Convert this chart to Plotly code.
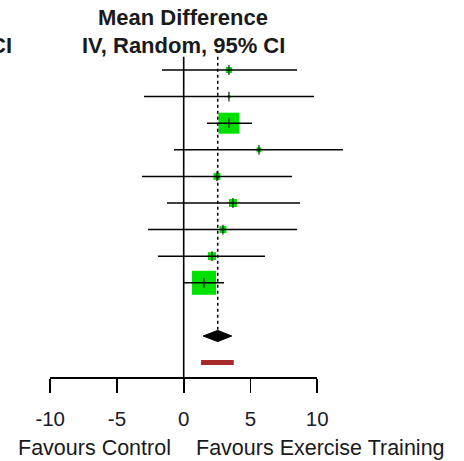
import plotly.graph_objects as go

# ---- data ----
study_rows = [1, 2, 3, 4, 5, 6, 7, 8, 9]
md_est = [3.39, 3.39, 3.39, 5.64, 2.49, 3.69, 2.94, 2.12, 1.52]
md_lo = [-1.63, -2.97, 1.75, -0.73, -3.12, -1.25, -2.67, -1.93, -0.05]
md_hi = [8.49, 9.76, 5.12, 11.93, 8.11, 8.71, 8.49, 6.09, 3.02]
weights = [2.7, 0.7, 33.6, 1.9, 3.7, 4.9, 3.7, 4.9, 43.9]
pooled_row = 11
pooled_est, pooled_lo, pooled_hi = 2.55, 1.45, 3.6
pred_row = 12
pred_lo, pred_hi = 1.3, 3.75
tick_vals = [-10, -5, 0, 5, 10]
tick_text = ["-10", "-5", "0", "5", "10"]

# ---- layout geometry ----
W, H = 464, 461
x0px, ppu = 183.7, 13.35
row_px0, row_step = 70.0, 26.6
plot_bottom_px = 377
xr = [-x0px / ppu, (W - x0px) / ppu]
yr = [1 + (plot_bottom_px - row_px0) / row_step, 1 + (0 - row_px0) / row_step]

fig = go.Figure()

# squares (weights)
max_w = max(weights)
sizes = [24 * (w / max_w) ** 0.5 for w in weights]
fig.add_trace(go.Scatter(x=md_est, y=study_rows, mode="markers",
                         marker=dict(symbol="square", size=sizes, color="rgb(0,225,0)",
                                     opacity=1, line=dict(width=0)),
                         hoverinfo="skip", showlegend=False))

# CI lines
cx, cy = [], []
for r, lo, hi in zip(study_rows, md_lo, md_hi):
    cx += [lo, hi, None]
    cy += [r, r, None]
fig.add_trace(go.Scatter(x=cx, y=cy, mode="lines",
                         line=dict(color="black", width=1.5),
                         hoverinfo="skip", showlegend=False))

# estimate ticks
fig.add_trace(go.Scatter(x=md_est, y=study_rows, mode="markers",
                         marker=dict(symbol="line-ns-open", size=7, color="#1a1a1a",
                                     line=dict(color="#1a1a1a", width=1.2)),
                         hoverinfo="skip", showlegend=False))

# zero line
fig.add_trace(go.Scatter(x=[0, 0], y=[0.5, yr[0]], mode="lines",
                         line=dict(color="black", width=1.6),
                         hoverinfo="skip", showlegend=False))

# pooled dotted line
fig.add_trace(go.Scatter(x=[pooled_est, pooled_est], y=[0.5, pooled_row - 0.2], mode="lines",
                         line=dict(color="black", width=1.5, dash="dot"),
                         hoverinfo="skip", showlegend=False))

# diamond
dh = 0.21
fig.add_trace(go.Scatter(x=[pooled_lo, pooled_est, pooled_hi, pooled_est, pooled_lo],
                         y=[pooled_row, pooled_row - dh, pooled_row, pooled_row + dh, pooled_row],
                         mode="lines", fill="toself", fillcolor="black",
                         line=dict(color="black", width=1),
                         hoverinfo="skip", showlegend=False))

# prediction interval
fig.add_trace(go.Scatter(x=[pred_lo, pred_hi], y=[pred_row, pred_row], mode="lines",
                         line=dict(color="#a52a2a", width=5),
                         hoverinfo="skip", showlegend=False))

# dummy for axis 2
fig.add_trace(go.Scatter(x=[0], y=[yr[1]], xaxis="x2", yaxis="y", mode="markers",
                         marker=dict(opacity=0), hoverinfo="skip", showlegend=False))

font_family = "Liberation Sans, Arial, sans-serif"
fig.update_layout(
    width=W, height=H,
    margin=dict(l=0, r=0, t=0, b=H - plot_bottom_px, autoexpand=False),
    paper_bgcolor="white", plot_bgcolor="rgba(0,0,0,0)",
    xaxis=dict(range=xr, visible=False, fixedrange=True),
    yaxis=dict(range=yr, visible=False, fixedrange=True),
    xaxis2=dict(domain=[(x0px - 10 * ppu) / W, (x0px + 10 * ppu) / W],
                range=[-10, 10], anchor="y", fixedrange=True,
                showline=True, linecolor="black", linewidth=1.6,
                ticks="outside", ticklen=14, tickwidth=1.6, tickcolor="black",
                tickvals=tick_vals, ticktext=tick_text, showgrid=False, zeroline=False,
                tickfont=dict(family=font_family, size=20.5, color="#1a1a2a"),
                ticklabelstandoff=9),
    showlegend=False,
)

def ypaper(px):
    return (plot_bottom_px - px) / plot_bottom_px

anns = [
    dict(text="<b>Mean Difference</b>", x=183 / W, y=ypaper(17), xanchor="center", yanchor="middle", size=22),
    dict(text="<b>IV, Random, 95% CI</b>", x=183 / W, y=ypaper(45), xanchor="center", yanchor="middle", size=22),
    dict(text="<b>CI</b>", x=14 / W, y=ypaper(45), xanchor="right", yanchor="middle", size=22),
    dict(text="Favours Control", x=173 / W, y=ypaper(448), xanchor="right", yanchor="middle", size=21.5),
    dict(text="Favours Exercise Training", x=194 / W, y=ypaper(448), xanchor="left", yanchor="middle", size=21.5),
]
for a in anns:
    fig.add_annotation(text=a["text"], x=a["x"], y=a["y"], xref="paper", yref="paper",
                       xanchor=a["xanchor"], yanchor=a["yanchor"], showarrow=False,
                       font=dict(family=font_family, size=a["size"], color="#1a1a1a"))

fig.write_html("out.html", config={"displayModeBar": False, "staticPlot": True},
               post_script="document.body.style.margin='0';")
